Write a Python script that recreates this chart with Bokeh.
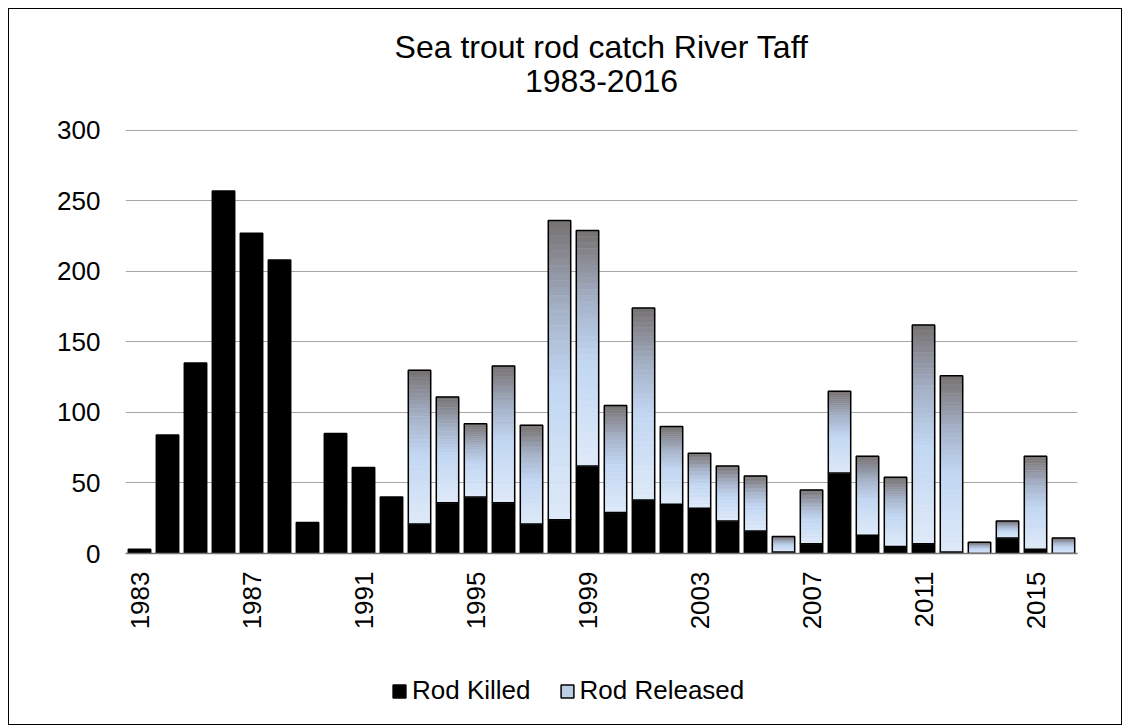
import math
from bokeh.plotting import figure
from bokeh.layouts import column
from bokeh.models import (Range1d, FixedTicker, Legend, LegendItem, ColumnDataSource,
                          Label)
from bokeh.embed import file_html
from bokeh.resources import INLINE

# ---- data ----
years = list(range(1983, 2017))
killed = [3, 84, 135, 257, 227, 208, 22, 85, 61, 40,
          21, 36, 40, 36, 21, 24, 62, 29, 38, 35,
          32, 23, 16, 1, 7, 57, 13, 5, 7, 1,
          0, 11, 3, 0]
total = [3, 84, 135, 257, 227, 208, 22, 85, 61, 40,
         130, 111, 92, 133, 91, 236, 229, 105, 174, 90,
         71, 62, 55, 12, 45, 115, 69, 54, 162, 126,
         8, 23, 69, 11]
released = [t - k for t, k in zip(total, killed)]
tick_years = [1983, 1987, 1991, 1995, 1999, 2003, 2007, 2011, 2015]
y_ticks = [0, 50, 100, 150, 200, 250, 300]
title_lines = ["Sea trout rod catch River Taff", "1983-2016"]
series_names = ["Rod Killed", "Rod Released"]

FONT = "Liberation Sans"
FW = 1112           # common width of the stacked figures
XR = (1982.5, 2016.5)
RELEASED_LEGEND = "#bccde6"


def bare_figure(h, xr, yr):
    f = figure(width=FW, height=h, output_backend="svg", toolbar_location=None,
               x_range=Range1d(*xr), y_range=Range1d(*yr), min_border=0,
               x_axis_location=None, y_axis_location=None)
    f.title.visible = False
    f.outline_line_color = None
    f.grid.grid_line_color = None
    f.background_fill_color = "white"
    f.border_fill_color = "white"
    return f


# ---------------- title strip ----------------
TH = 100
pt = bare_figure(TH, XR, (0, TH))
xc = (XR[0] + XR[1]) / 2
pt.add_layout(Label(x=xc, y=63, text=title_lines[0], text_align="center",
                    text_baseline="alphabetic", text_font=FONT, text_font_size="32px",
                    text_color="black"))
pt.add_layout(Label(x=xc, y=29, text=title_lines[1], text_align="center",
                    text_baseline="alphabetic", text_font=FONT, text_font_size="32px",
                    text_color="black"))

# ---------------- main chart ----------------
p = figure(width=FW, height=541, output_backend="svg", toolbar_location=None,
           x_range=Range1d(*XR), y_range=Range1d(0, 300.6),
           min_border_left=116, min_border_right=44, min_border_top=20,
           min_border_bottom=97)
p.title.visible = False
p.outline_line_color = None
p.background_fill_color = "white"
p.border_fill_color = "white"

p.xgrid.grid_line_color = None
p.ygrid.grid_line_color = "#a6a6a6"
p.ygrid.grid_line_width = 1
p.yaxis.ticker = FixedTicker(ticks=y_ticks)
p.yaxis.axis_line_color = None
p.yaxis.major_tick_line_color = None
p.yaxis.minor_tick_line_color = None
p.yaxis.major_label_standoff = 19
p.yaxis.major_label_text_font = FONT
p.yaxis.major_label_text_font_size = "26px"
p.yaxis.major_label_text_color = "black"

p.xaxis.ticker = FixedTicker(ticks=tick_years)
p.xaxis.axis_line_color = "#767676"
p.xaxis.axis_line_width = 1.5
p.xaxis.major_tick_line_color = None
p.xaxis.minor_tick_line_color = None
p.xaxis.major_label_orientation = math.pi / 2
p.xaxis.major_label_standoff = 12
p.xaxis.major_label_text_font = FONT
p.xaxis.major_label_text_font_size = "26px"
p.xaxis.major_label_text_color = "black"

W = 0.8
p.vbar(x=years, bottom=0, top=killed, width=W, fill_color="black",
       line_color="black", line_width=1.5)

# released bars with a vertical gradient (slices computed from the data)
stops = [(0.0, (222, 234, 249)), (0.45, (193, 214, 242)), (0.7, (165, 178, 200)),
         (1.0, (118, 113, 113))]


def grad(t):
    for (t0, c0), (t1, c1) in zip(stops[:-1], stops[1:]):
        if t <= t1:
            f = (t - t0) / (t1 - t0)
            return "#%02x%02x%02x" % tuple(int(round(a + (b - a) * f)) for a, b in zip(c0, c1))
    return "#%02x%02x%02x" % stops[-1][1]


N = 40
sx, sb, st, sc = [], [], [], []
for yr, k, r in zip(years, killed, released):
    if r <= 0:
        continue
    for i in range(N):
        sx.append(yr)
        sb.append(k + r * i / N)
        st.append(k + r * (i + 1) / N)
        sc.append(grad((i + 0.5) / N))
p.vbar(x="x", bottom="b", top="t", width=W, fill_color="c", line_color="c",
       line_width=0.5, source=ColumnDataSource(dict(x=sx, b=sb, t=st, c=sc)))

rx = [y for y, r in zip(years, released) if r > 0]
rb = [k for k, r in zip(killed, released) if r > 0]
rt = [t for t, r in zip(total, released) if r > 0]
p.vbar(x=rx, bottom=rb, top=rt, width=W, fill_color=None, line_color="black",
       line_width=1.5)

# ---------------- legend strip ----------------
LH = 74
pl = bare_figure(LH, XR, (0, 300))
k_proxy = pl.vbar(x=years, bottom=0, top=killed, width=W, fill_color="black",
                  line_color="black", line_width=1.5, visible=False)
r_proxy = pl.vbar(x=years, bottom=killed, top=total, width=W,
                  fill_color=RELEASED_LEGEND, line_color="black", line_width=1.5,
                  visible=False)
legend = Legend(items=[LegendItem(label=series_names[0], renderers=[k_proxy]),
                       LegendItem(label=series_names[1], renderers=[r_proxy])],
                location=(266, 18), orientation="horizontal")
legend.padding = 0
legend.margin = 0
legend.spacing = 28
legend.glyph_width = 16
legend.glyph_height = 16
legend.label_standoff = 5
legend.label_text_font = FONT
legend.label_text_font_size = "26px"
legend.label_text_color = "black"
legend.background_fill_alpha = 0
legend.border_line_alpha = 0
legend.inactive_fill_alpha = 0
pl.add_layout(legend)

lay = column(pt, p, pl, spacing=0)
lay.styles = {"border": "1px solid black", "margin-left": "8px", "margin-top": "8px"}

open("out.html", "w").write(file_html(lay, INLINE))
